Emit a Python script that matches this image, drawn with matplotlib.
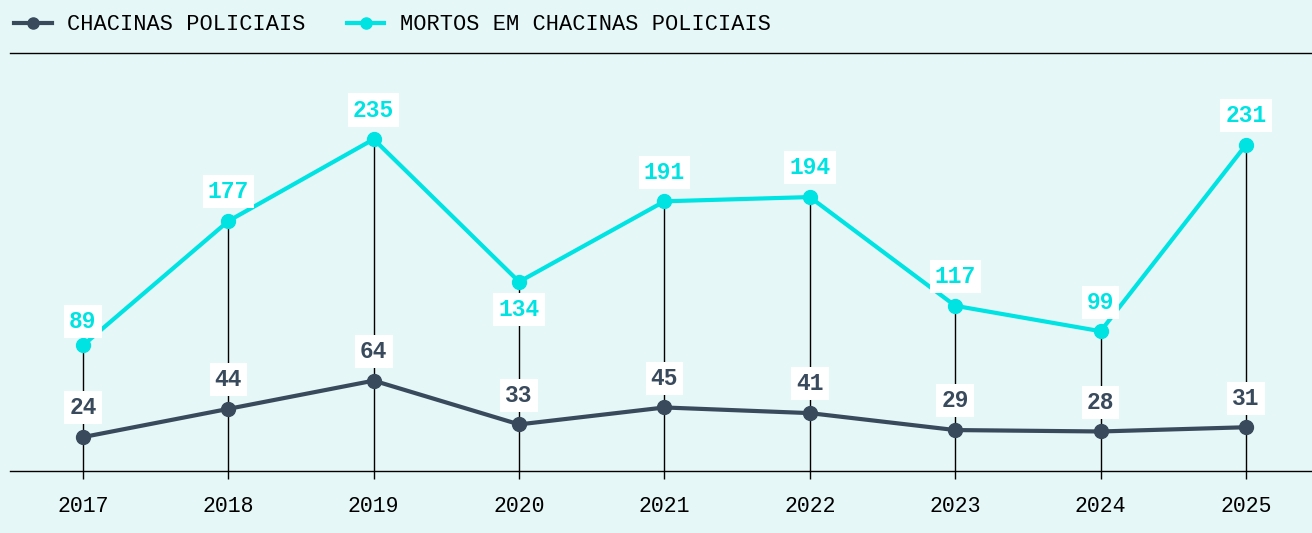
import matplotlib.pyplot as plt

anos = [2017, 2018, 2019, 2020, 2021, 2022, 2023, 2024, 2025]
chacinas = [24, 44, 64, 33, 45, 41, 29, 28, 31]
mortos = [89, 177, 235, 134, 191, 194, 117, 99, 231]

escuro = '#394a5c'
ciano = '#00e3e3'
fundo = '#e6f7f7'

plt.rcParams['font.family'] = ['Liberation Mono', 'DejaVu Sans Mono']

fig = plt.figure(figsize=(13.12, 5.33), dpi=100, facecolor=fundo)
ax = fig.add_axes([0.0076, 0.1163, 0.9924, 0.7842], facecolor=fundo)

ax.vlines(anos, 0, mortos, color='black', lw=1, zorder=1)
ax.plot(anos, chacinas, color=escuro, lw=3, marker='o', ms=10, zorder=3,
        label='CHACINAS POLICIAIS')
ax.plot(anos, mortos, color=ciano, lw=3, marker='o', ms=10, zorder=3,
        label='MORTOS EM CHACINAS POLICIAIS')

caixa = dict(boxstyle='square,pad=0.22', fc='white', ec='none')
for a, c, m in zip(anos, chacinas, mortos):
    ax.annotate(str(c), (a, c), xytext=(0, 21), textcoords='offset points',
                ha='center', va='center', fontsize=16.5, fontweight='bold',
                color=escuro, bbox=caixa, zorder=4)
    dy = 21
    if a == 2020:
        dy = -20
    elif a == 2017:
        dy = 17
    ax.annotate(str(m), (a, m), xytext=(0, dy), textcoords='offset points',
                ha='center', va='center', fontsize=16.5, fontweight='bold',
                color=ciano, bbox=caixa, zorder=4)

ax.set_xlim(2016.498, 2025.454)
ax.set_ylim(0, 296)
ax.set_xticks(anos)
ax.set_yticks([])
ax.tick_params(axis='x', length=6, width=1, color='black', pad=12,
               labelsize=15.5)
for s in ['left', 'right']:
    ax.spines[s].set_visible(False)
for s in ['top', 'bottom']:
    ax.spines[s].set_color('black')
    ax.spines[s].set_linewidth(1)

fig.legend(loc='upper left', bbox_to_anchor=(0.0, 1.0), ncol=2, frameon=False,
           fontsize=15.8, handlelength=1.7, handletextpad=0.7,
           columnspacing=1.9, borderaxespad=0.25, markerscale=0.8)

fig.savefig('out.png', dpi=100, facecolor=fundo)
